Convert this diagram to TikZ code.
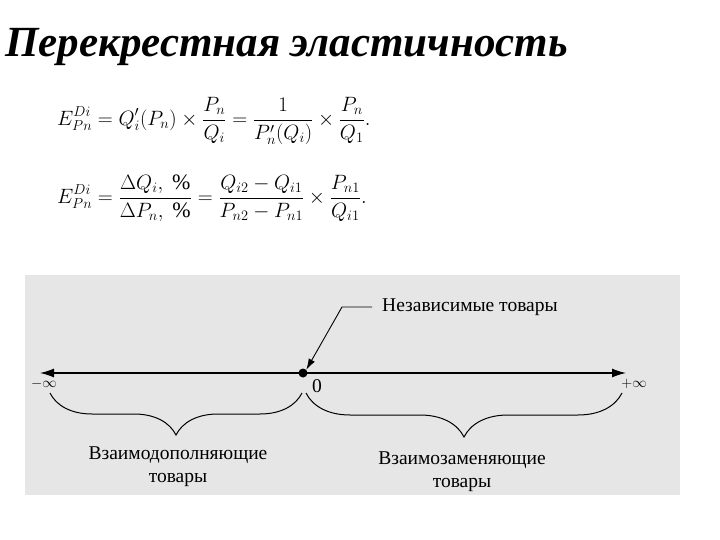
\documentclass[tikz,border=0pt]{standalone}
\usepackage{amsmath, amssymb}
\usepackage{fontspec}
\setmainfont{Liberation Serif}
\usetikzlibrary{arrows.meta, positioning, decorations.pathreplacing, calc}
\definecolor{scanGray}{HTML}{E6E6E6}

\begin{document}
\begin{tikzpicture}[x=1pt, y=-1pt,
    lbl/.style={font=\fontsize{19.5}{22}\selectfont, align=center, inner sep=0pt},
    frm/.style={anchor=west, inner sep=0pt, font=\fontsize{22}{26}\selectfont},
    brc/.style={decorate, decoration={brace, mirror, amplitude=#1}, line width=1pt}]
    \useasboundingbox (0,0) rectangle (720,540);
    \node[anchor=base west, inner sep=0pt, font=\fontsize{43}{48}\selectfont\bfseries\itshape]
      (title) at (5,57) {Перекрестная эластичность};
    % formulas
    \node[frm] (frmA) at (57,121)
      {$\displaystyle E^{Di}_{Pn} = Q'_i(P_n)\times\frac{P_n}{Q_i}
        = \frac{1}{P'_n(Q_i)}\times\frac{P_n}{Q_1}.$};
    \node[frm] (frmB) at (57,198)
      {$\displaystyle E^{Di}_{Pn} = \frac{\Delta Q_i,\ \%}{\Delta P_n,\ \%}
        = \frac{Q_{i2}-Q_{i1}}{P_{n2}-P_{n1}}\times\frac{P_{n1}}{Q_{i1}}.$};
    % scanned panel with the axis
    \fill[scanGray] (25,275) rectangle (680,495);
    \coordinate (minf) at (40,373);
    \coordinate (pinf) at (626,373);
    \draw[{Latex[length=14pt,width=9pt]}-{Latex[length=14pt,width=9pt]}, line width=1.3pt]
      (minf) -- (pinf);
    \node[circle, fill, inner sep=0pt, minimum size=9pt] (zero) at (303,373) {};
    \node[lbl] (zlbl) at (317,386) {0};
    \node[lbl, font=\fontsize{14}{16}\selectfont] (mlbl) at (44,384) {$-\infty$};
    \node[lbl, font=\fontsize{14}{16}\selectfont] (plbl) at (634,384) {$+\infty$};
    \node[lbl, anchor=west] (indep) at (382,307) {Независимые товары};
    \coordinate (bend) at (342,307);
    \draw[line width=0.9pt, -{Latex[length=11pt,width=7pt]}]
      (indep.west) ++(-10,0) -- (bend) -- (zero.north east);
    % braces
    \coordinate (lbA) at (50,393);
    \coordinate (lbB) at (302,393);
    \coordinate (rbA) at (306,393);
    \coordinate (rbB) at (622,393);
    \draw[brc=42pt] (lbA) -- (lbB);
    \draw[brc=44pt] (rbA) -- (rbB);
    \node[lbl] (compl) at (178,467) {Взаимодополняющие\\[1pt]товары};
    \node[lbl] (subst) at (462,472) {Взаимозаменяющие\\[1pt]товары};
\end{tikzpicture}
\end{document}
